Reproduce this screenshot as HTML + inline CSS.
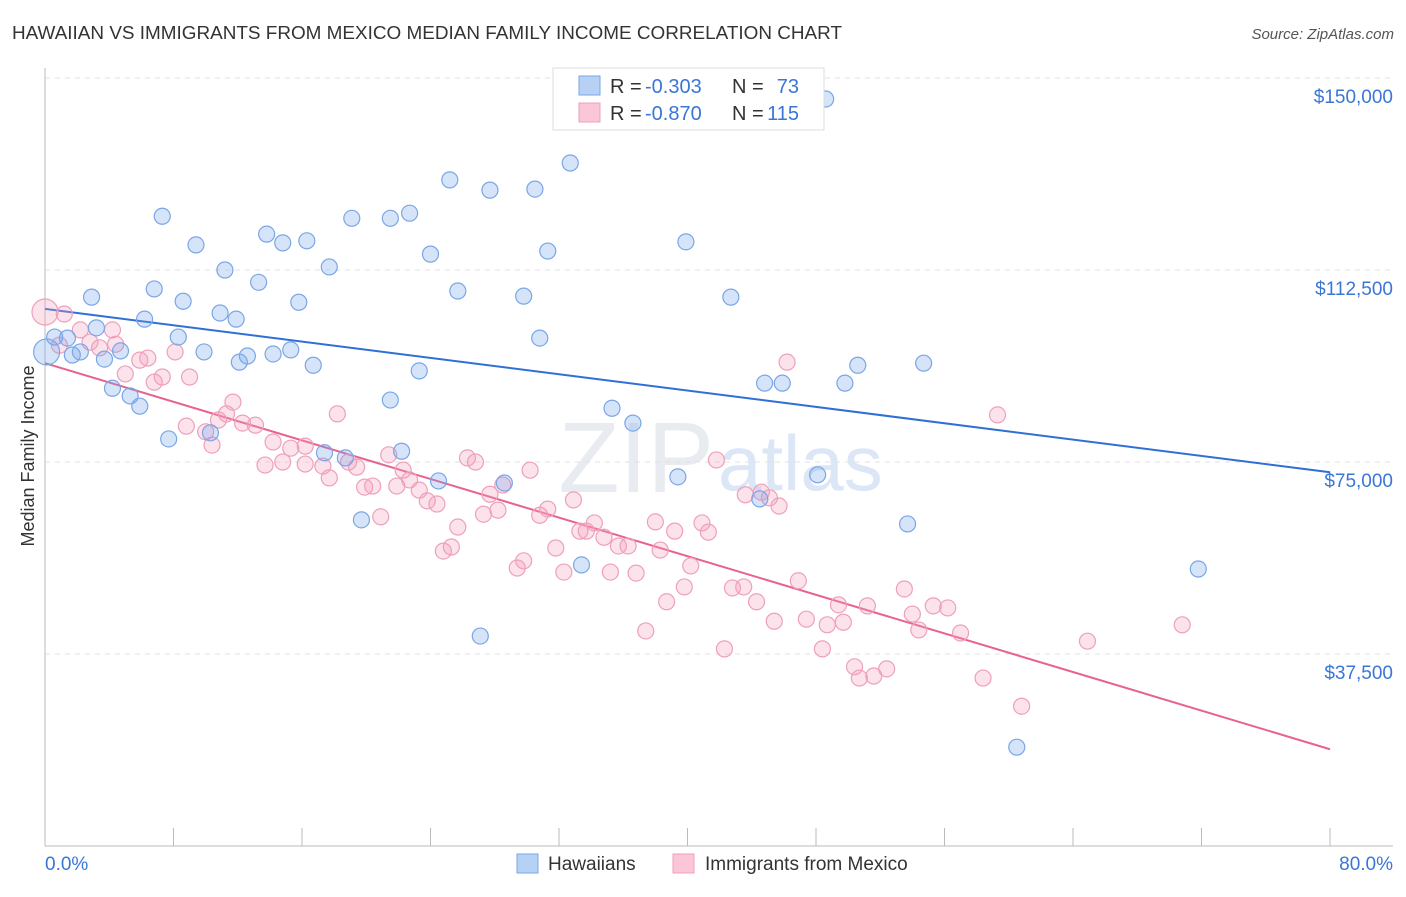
<!DOCTYPE html>
<html><head><meta charset="utf-8"><style>
body{margin:0;background:#fff;font-family:"Liberation Sans",sans-serif;}
svg text{font-family:"Liberation Sans",sans-serif;}
</style></head><body>
<svg id="chart" width="1406" height="892">
<text x="12" y="39" font-size="18" fill="#333" textLength="830" lengthAdjust="spacingAndGlyphs">HAWAIIAN VS IMMIGRANTS FROM MEXICO MEDIAN FAMILY INCOME CORRELATION CHART</text>
<text x="1394" y="39" font-size="15" fill="#555" font-style="italic" text-anchor="end">Source: ZipAtlas.com</text>
<text x="34" y="456" font-size="18" fill="#333" text-anchor="middle" transform="rotate(-90 34 456)">Median Family Income</text>
<text x="714" y="492" font-size="100" fill="#e8ebf0" text-anchor="end" font-family="Liberation Serif">ZIP</text>
<text x="718" y="490" font-size="78" fill="#dbe6f6">atlas</text>
<g id="grid"></g><g id="axes"></g><g id="lines"></g><g id="points"></g>
<g>
<rect x="553" y="68" width="271" height="62" fill="#fff" stroke="#ddd"/>
<rect x="579" y="76" width="21" height="19" fill="#b7d1f4" stroke="#7aa6e6"/>
<rect x="579" y="103" width="21" height="19" fill="#fbc6d6" stroke="#eea0bb"/>
<text x="610" y="93" font-size="20" fill="#333">R =</text>
<text x="645" y="93" font-size="20" fill="#3a76d6">-0.303</text>
<text x="732" y="93" font-size="20" fill="#333">N =</text>
<text x="799" y="93" font-size="20" fill="#3a76d6" text-anchor="end">73</text>
<text x="610" y="120" font-size="20" fill="#333">R =</text>
<text x="645" y="120" font-size="20" fill="#3a76d6">-0.870</text>
<text x="732" y="120" font-size="20" fill="#333">N =</text>
<text x="799" y="120" font-size="20" fill="#3a76d6" text-anchor="end">115</text>
</g>
<g>
<rect x="517" y="854" width="21" height="19" fill="#b7d1f4" stroke="#7aa6e6"/>
<text x="548" y="870" font-size="19" fill="#333">Hawaiians</text>
<rect x="673" y="854" width="21" height="19" fill="#fbc6d6" stroke="#eea0bb"/>
<text x="705" y="870" font-size="19" fill="#333">Immigrants from Mexico</text>
</g>
</svg>
<script>
const xTickPct=[0,8,16,24,32,40,48,56,64,72,80];
const yTickVals=[37.5,75,112.5,150];
const yTickLabels=["$37,500","$75,000","$112,500","$150,000"];
const xEndLabels=["0.0%","80.0%"];
const blueX=[48.6,32.7,25.2,27.7,30.5,7.3,19.1,21.5,22.7,13.8,14.8,16.3,9.4,31.3,24.0,39.9,11.2,17.7,13.3,6.8,2.9,8.6,15.8,25.7,29.8,42.7,10.9,6.2,11.9,3.2,8.3,0.6,1.4,30.8,2.2,4.7,9.9,1.7,3.7,14.2,15.3,12.6,12.1,16.7,23.3,50.6,54.7,44.8,45.9,49.8,4.2,5.3,5.9,21.5,35.3,36.6,7.7,22.2,17.4,18.7,24.5,28.6,39.4,48.1,44.5,19.7,53.7,33.4,71.8,27.1,60.5,0.1,10.3];
const blueY=[145.9,133.4,130.1,128.1,128.3,123.0,122.6,122.6,123.6,119.5,117.8,118.2,117.4,116.2,115.6,118.0,112.5,113.1,110.1,108.8,107.2,106.4,106.2,108.4,107.4,107.2,104.1,102.9,102.9,101.2,99.4,99.4,99.2,99.2,96.5,96.7,96.5,95.9,95.1,96.1,96.9,95.7,94.5,93.9,92.8,93.9,94.3,90.4,90.4,90.4,89.4,87.9,85.9,87.1,85.5,82.6,79.5,77.1,76.8,75.8,71.3,70.9,72.1,72.5,67.8,63.7,62.9,54.9,54.1,41.0,19.3,96.5,80.7];
const pinkX=[0.0,1.2,2.2,0.9,3.4,4.4,2.8,5.9,6.4,8.1,5.0,6.8,7.3,9.0,11.7,11.3,8.8,10.0,10.4,10.8,12.3,13.1,14.2,15.3,16.2,13.7,14.8,16.2,17.3,17.7,18.2,18.9,19.4,19.9,20.4,20.9,21.4,21.9,22.3,22.7,23.3,23.8,24.4,24.8,25.3,25.7,26.3,26.8,27.7,27.3,28.2,28.5,29.4,29.8,30.2,30.8,31.3,31.8,32.3,32.9,33.3,33.7,34.2,34.8,35.2,35.7,36.3,36.8,37.4,38.0,38.3,38.7,39.2,39.8,40.2,40.9,41.3,41.8,42.3,42.8,43.5,43.6,44.3,44.6,45.1,45.4,45.7,46.2,46.9,47.4,48.4,48.7,49.4,49.7,50.4,50.7,51.2,51.6,52.4,53.5,54.0,54.4,55.3,56.2,57.0,58.4,59.3,60.8,64.9,70.8,4.2];
const pinkY=[104.3,103.9,100.8,97.8,97.3,98.0,98.4,94.9,95.3,96.5,92.2,90.6,91.6,91.6,86.7,84.4,82.0,80.9,78.3,83.2,82.6,82.2,78.9,77.7,78.1,74.4,75.0,74.6,74.2,71.9,84.4,75.0,74.0,70.1,70.3,64.3,76.4,70.3,73.4,71.5,69.5,67.4,66.8,57.6,58.4,62.3,75.8,75.0,68.7,64.8,65.6,70.5,54.3,55.7,73.4,64.6,65.8,58.2,53.5,67.6,61.5,61.5,63.1,60.3,53.5,58.6,58.6,53.3,42.0,63.3,57.8,47.7,61.5,50.6,54.7,63.1,61.3,75.4,38.5,50.4,50.6,68.6,47.7,69.1,68.0,43.9,66.4,94.5,51.8,44.3,38.5,43.2,47.1,43.7,35.0,32.8,46.9,33.2,34.6,50.2,45.3,42.2,46.9,46.5,41.6,32.8,84.2,27.3,40.0,43.2,100.8];
const blueFit=[104.9,73.0];
const pinkFit=[94.3,18.9];
const X0=45,X1=1330,YB=846,PXK=192/37.5;
const sx=p=>X0+(p/80)*(X1-X0);
const sy=v=>YB-v*PXK;
const NS="http://www.w3.org/2000/svg";
function mk(tag,attrs,parent){const e=document.createElementNS(NS,tag);for(const k in attrs)e.setAttribute(k,attrs[k]);document.getElementById(parent).appendChild(e);return e;}
yTickVals.forEach((v,i)=>{
  const g=mk('line',{x1:X0,x2:1393,y1:sy(v),y2:sy(v),stroke:'#e2e2e2','stroke-dasharray':'5,5'},'grid');
  
  
  const t=mk('text',{x:1393,y:sy(v)+25,'font-size':19,fill:'#3a76d6','text-anchor':'end'},'grid');
  t.textContent=yTickLabels[i];
  
  
});
const ya=mk('line',{x1:X0,x2:X0,y1:68,y2:YB,stroke:'#bbb'},'axes');


const xa=mk('line',{x1:X0,x2:1393,y1:YB,y2:YB,stroke:'#bbb'},'axes');


xTickPct.forEach(p=>{
  const t=mk('line',{x1:sx(p),x2:sx(p),y1:828,y2:YB,stroke:'#bbb'},'axes');
  
  
});
const l0=mk('text',{x:45,y:870,'font-size':19,fill:'#3a76d6'},'axes');l0.textContent=xEndLabels[0];


const l1=mk('text',{x:1393,y:870,'font-size':19,fill:'#3a76d6','text-anchor':'end'},'axes');l1.textContent=xEndLabels[1];


function pts(xs,ys,fill,stroke,name){
  xs.forEach((x,i)=>{
    const big=(x<0.3);
    const c=mk('circle',{cx:sx(x),cy:sy(ys[i]),r:big?13:8,fill:fill,stroke:stroke,'stroke-width':1.2},'points');
    
    
  });
}
pts(pinkX,pinkY,'rgba(245,160,190,0.3)','#eea0bb','point-mexico');
pts(blueX,blueY,'rgba(120,165,235,0.3)','#7aa6e6','point-hawaiians');
const bl=mk('line',{x1:sx(0),y1:sy(blueFit[0]),x2:sx(80),y2:sy(blueFit[1]),stroke:'#2f6fd6','stroke-width':2},'lines');


const pl=mk('line',{x1:sx(0),y1:sy(pinkFit[0]),x2:sx(80),y2:sy(pinkFit[1]),stroke:'#e8628f','stroke-width':2},'lines');


</script>
</body></html>
